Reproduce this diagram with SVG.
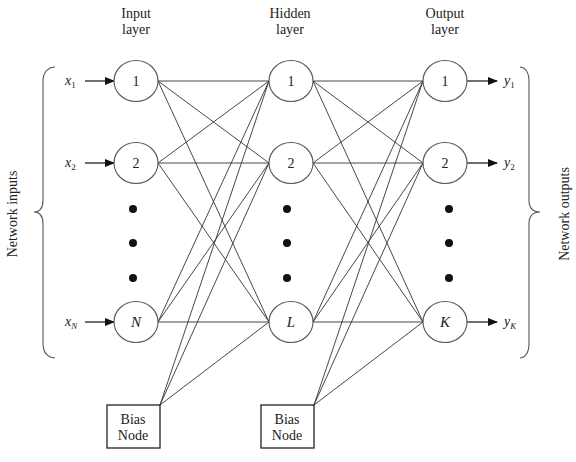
<svg xmlns="http://www.w3.org/2000/svg" width="576" height="462" viewBox="0 0 576 462">
<style>
text{font-family:"Liberation Serif","DejaVu Serif",serif;fill:#222;font-size:14px}
.c{text-anchor:middle}
.it{font-style:italic}
.sub{font-size:9px}
.node ellipse{fill:#fff;stroke:#555;stroke-width:1.1}
.bias rect{fill:#fff;stroke:#222;stroke-width:1.3}
.conn line{stroke:#333;stroke-width:0.9}
.arr line{stroke:#111;stroke-width:1.2}
.dot{fill:#111}
.brace{fill:none;stroke:#555;stroke-width:1.1}
</style>
<defs>
<marker id="ah" markerWidth="10" markerHeight="8" refX="9" refY="4" orient="auto" markerUnits="userSpaceOnUse">
<path d="M0,0 L10,4 L0,8 Z" fill="#111"/>
</marker>
</defs>
<rect width="576" height="462" fill="#fff"/>
<g id="titles">
<text class="c" x="136" y="18">Input</text>
<text class="c" x="136" y="34">layer</text>
<text class="c" x="290" y="18">Hidden</text>
<text class="c" x="290" y="34">layer</text>
<text class="c" x="445" y="18">Output</text>
<text class="c" x="445" y="34">layer</text>
</g>
<g id="connectors" class="conn">
<line x1="158" y1="81" x2="269" y2="81"/><line x1="158" y1="81" x2="269" y2="163"/><line x1="158" y1="81" x2="269" y2="322"/>
<line x1="158" y1="163" x2="269" y2="81"/><line x1="158" y1="163" x2="269" y2="163"/><line x1="158" y1="163" x2="269" y2="322"/>
<line x1="158" y1="322" x2="269" y2="81"/><line x1="158" y1="322" x2="269" y2="163"/><line x1="158" y1="322" x2="269" y2="322"/>
<line x1="160" y1="405" x2="269" y2="81"/><line x1="160" y1="405" x2="269" y2="163"/><line x1="160" y1="405" x2="269" y2="322"/>
<line x1="313" y1="81" x2="423" y2="81"/><line x1="313" y1="81" x2="423" y2="163"/><line x1="313" y1="81" x2="423" y2="322"/>
<line x1="313" y1="163" x2="423" y2="81"/><line x1="313" y1="163" x2="423" y2="163"/><line x1="313" y1="163" x2="423" y2="322"/>
<line x1="313" y1="322" x2="423" y2="81"/><line x1="313" y1="322" x2="423" y2="163"/><line x1="313" y1="322" x2="423" y2="322"/>
<line x1="314" y1="405" x2="423" y2="81"/><line x1="314" y1="405" x2="423" y2="163"/><line x1="314" y1="405" x2="423" y2="322"/>
</g>
<g id="arrows" class="arr">
<line x1="85" y1="81" x2="114" y2="81" marker-end="url(#ah)"/>
<line x1="85" y1="163" x2="114" y2="163" marker-end="url(#ah)"/>
<line x1="85" y1="322" x2="114" y2="322" marker-end="url(#ah)"/>
<line x1="467" y1="81" x2="497" y2="81" marker-end="url(#ah)"/>
<line x1="467" y1="163" x2="497" y2="163" marker-end="url(#ah)"/>
<line x1="467" y1="322" x2="497" y2="322" marker-end="url(#ah)"/>
</g>
<g id="io-labels">
<text x="65" y="85"><tspan class="it">x</tspan><tspan class="sub" dy="3">1</tspan></text>
<text x="65" y="167"><tspan class="it">x</tspan><tspan class="sub" dy="3">2</tspan></text>
<text x="65" y="326"><tspan class="it">x</tspan><tspan class="sub it" dy="3">N</tspan></text>
<text x="504" y="85"><tspan class="it">y</tspan><tspan class="sub" dy="3">1</tspan></text>
<text x="504" y="167"><tspan class="it">y</tspan><tspan class="sub" dy="3">2</tspan></text>
<text x="504" y="326"><tspan class="it">y</tspan><tspan class="sub it" dy="3">K</tspan></text>
</g>
<g id="input-1" class="node"><ellipse cx="136" cy="81" rx="22" ry="20.5"/><text class="c" x="136" y="86">1</text></g>
<g id="input-2" class="node"><ellipse cx="136" cy="163" rx="22" ry="20.5"/><text class="c" x="136" y="168">2</text></g>
<g id="input-N" class="node"><ellipse cx="136" cy="322" rx="22" ry="20.5"/><text class="c it" x="136" y="327" style="font-size:15px">N</text></g>
<g id="hidden-1" class="node"><ellipse cx="291" cy="81" rx="22" ry="20.5"/><text class="c" x="291" y="86">1</text></g>
<g id="hidden-2" class="node"><ellipse cx="291" cy="163" rx="22" ry="20.5"/><text class="c" x="291" y="168">2</text></g>
<g id="hidden-L" class="node"><ellipse cx="291" cy="322" rx="22" ry="20.5"/><text class="c it" x="291" y="327" style="font-size:15px">L</text></g>
<g id="output-1" class="node"><ellipse cx="445" cy="81" rx="22" ry="20.5"/><text class="c" x="445" y="86">1</text></g>
<g id="output-2" class="node"><ellipse cx="445" cy="163" rx="22" ry="20.5"/><text class="c" x="445" y="168">2</text></g>
<g id="output-K" class="node"><ellipse cx="445" cy="322" rx="22" ry="20.5"/><text class="c it" x="445" y="327" style="font-size:15px">K</text></g>
<g id="bias-1" class="bias"><rect x="107" y="405" width="53" height="43"/><text class="c" x="133" y="424">Bias</text><text class="c" x="133" y="440">Node</text></g>
<g id="bias-2" class="bias"><rect x="261" y="405" width="53" height="43"/><text class="c" x="287" y="424">Bias</text><text class="c" x="287" y="440">Node</text></g>
<g id="ellipsis">
<circle class="dot" cx="133" cy="209" r="4"/><circle class="dot" cx="133" cy="243" r="4"/><circle class="dot" cx="133" cy="278" r="4"/>
<circle class="dot" cx="287" cy="209" r="4"/><circle class="dot" cx="287" cy="243" r="4"/><circle class="dot" cx="287" cy="278" r="4"/>
<circle class="dot" cx="449" cy="209" r="4"/><circle class="dot" cx="449" cy="243" r="4"/><circle class="dot" cx="449" cy="278" r="4"/>
</g>
<g id="braces">
<path class="brace" d="M55 67 Q43 68 43 82 L43 200 Q43 212 34 212 Q43 212 43 224 L43 343 Q43 357 55 358"/>
<path class="brace" d="M520 67 Q529 68 529 82 L529 200 Q529 212 540 212 Q529 212 529 224 L529 343 Q529 357 520 358"/>
<text class="c" transform="translate(17 214) rotate(-90)">Network inputs</text>
<text class="c" transform="translate(569 214) rotate(-90)">Network outputs</text>
</g>
</svg>
